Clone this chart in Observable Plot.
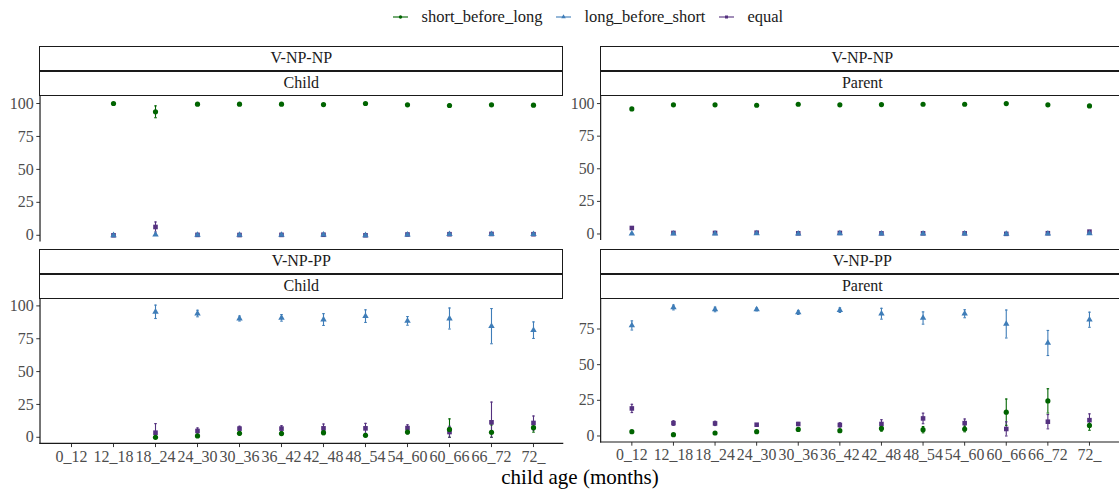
<!DOCTYPE html>
<html><head><meta charset="utf-8">
<script src="https://cdn.jsdelivr.net/npm/d3@7"></script>
<script src="https://cdn.jsdelivr.net/npm/@observablehq/plot@0.6"></script>
<style>
body{margin:0;background:#fff;}
#root{position:relative;width:1119px;height:491px;overflow:hidden;font-family:"Liberation Serif","DejaVu Serif",serif;background:#fff;}
.strip{position:absolute;box-sizing:border-box;border:1.4px solid #1a1a1a;background:#fff;font-size:16px;color:#1a1a1a;display:flex;align-items:center;justify-content:center;}
.panel{position:absolute;}
.panel svg{overflow:visible;}
#legend{position:absolute;top:7px;left:393px;display:flex;align-items:center;font-size:16.5px;color:#1a1a1a;white-space:nowrap;}
#legend .key{display:block;margin-right:13.5px;}
#legend .item{display:flex;align-items:center;margin-right:13.5px;}
#xtitle{position:absolute;top:465px;left:380px;width:400px;text-align:center;font-size:21px;color:#000;}
</style></head>
<body><div id="root"><div id="legend"></div><div id="xtitle">child age (months)</div></div>
<script>
// ---------- categories ----------
const ages = ["0_12","12_18","18_24","24_30","30_36","36_42","42_48","48_54","54_60","60_66","66_72","72_"];
const seriesNames = ["short_before_long","long_before_short","equal"];
const seriesColors = ["#006400","#3F7DB8","#54317F"];
const seriesSymbols = ["circle","triangle","square"];
const rowLabels = ["V-NP-NP","V-NP-PP"];
const colLabels = ["Child","Parent"];
const yTicksFull = [0,25,50,75,100];
const yTicksPP = [0,25,50,75];

// ---------- V-NP-NP / Child ----------
const npnpChildShort    = [null,100,93.7,99.5,99.5,99.5,99.2,100,99.0,98.5,99.0,98.7];
const npnpChildShortErr = [null,0.3,4.5,0.3,0.3,0.3,0.4,0.2,0.5,1.0,0.8,0.6];
const npnpChildLong     = [null,0.0,0.5,0.3,0.3,0.3,0.5,0.0,0.5,0.8,0.8,0.8];
const npnpChildLongErr  = [null,0.0,0.5,0.3,0.3,0.3,0.4,0.0,0.4,0.6,0.6,0.5];
const npnpChildEqual    = [null,0.0,6.3,0.3,0.2,0.3,0.4,0.0,0.6,0.8,1.0,0.8];
const npnpChildEqualErr = [null,0.0,3.8,0.2,0.2,0.2,0.3,0.0,0.4,0.5,0.6,0.5];

// ---------- V-NP-NP / Parent ----------
const npnpParentShort    = [95.9,99.0,99.0,98.7,99.5,99.0,99.2,99.5,99.5,100,99.0,98.2];
const npnpParentShortErr = [0.8,0.4,0.4,0.5,0.3,0.4,0.4,0.3,0.3,0.4,0.5,0.8];
const npnpParentLong     = [0.3,0.3,0.3,0.4,0.2,0.4,0.3,0.2,0.2,0.0,0.3,0.4];
const npnpParentLongErr  = [0.3,0.2,0.2,0.3,0.2,0.3,0.2,0.2,0.2,0.0,0.3,0.3];
const npnpParentEqual    = [4.6,0.8,0.8,1.0,0.5,0.8,0.5,0.5,0.5,0.1,0.6,1.8];
const npnpParentEqualErr = [0.8,0.4,0.4,0.5,0.3,0.4,0.3,0.3,0.3,0.1,0.4,0.8];

// ---------- V-NP-PP / Child ----------
const nppChildShort    = [null,null,0.0,1.0,3.0,2.8,3.5,1.5,4.0,6.0,3.8,7.3];
const nppChildShortErr = [null,null,0.3,0.8,1.2,1.2,1.5,1.0,1.4,8.0,5.6,3.4];
const nppChildLong     = [null,null,95.5,94.2,90.4,90.9,89.6,92.2,88.6,90.4,84.6,81.5];
const nppChildLongErr  = [null,null,5.1,2.5,1.9,2.5,4.5,4.8,3.3,8.0,13.4,6.3];
const nppChildEqual    = [null,null,3.5,4.8,6.6,6.6,6.8,6.8,7.0,4.0,11.4,10.9];
const nppChildEqualErr = [null,null,6.9,2.3,1.8,2.2,3.3,3.8,2.5,4.4,15.4,5.3];

// ---------- V-NP-PP / Parent ----------
const nppParentShort    = [3.0,0.9,2.1,3.0,4.6,3.7,5.3,4.4,4.9,16.7,24.6,7.4];
const nppParentShortErr = [0.6,0.4,0.5,0.6,0.9,0.8,2.0,2.2,2.0,9.2,8.5,3.4];
const nppParentLong     = [77.5,90.1,88.7,88.7,86.6,88.2,85.7,82.7,85.7,78.5,65.2,81.5];
const nppParentLongErr  = [3.2,1.7,1.6,1.0,1.4,1.6,3.8,4.3,2.8,9.8,8.8,5.3];
const nppParentEqual    = [19.3,9.0,8.8,7.9,8.4,7.7,8.4,12.3,9.0,4.9,10.0,11.1];
const nppParentEqualErr = [2.9,1.6,1.5,0.8,1.1,1.5,3.0,3.7,2.9,5.0,5.0,4.4];

// ---------- build tables ----------
function rows(means, errs) {
  const out = [];
  seriesNames.forEach((s, k) => {
    means[k].forEach((m, i) => {
      if (m == null) return;
      const e = errs[k][i];
      out.push({age: ages[i], series: s, mean: m, lo: Math.max(0, m - e), hi: m + e});
    });
  });
  return out;
}
const panels = [
  {row: 0, col: 0, ticks: yTicksFull, data: rows([npnpChildShort, npnpChildLong, npnpChildEqual], [npnpChildShortErr, npnpChildLongErr, npnpChildEqualErr])},
  {row: 0, col: 1, ticks: yTicksFull, data: rows([npnpParentShort, npnpParentLong, npnpParentEqual], [npnpParentShortErr, npnpParentLongErr, npnpParentEqualErr])},
  {row: 1, col: 0, ticks: yTicksFull, data: rows([nppChildShort, nppChildLong, nppChildEqual], [nppChildShortErr, nppChildLongErr, nppChildEqualErr])},
  {row: 1, col: 1, ticks: yTicksPP, data: rows([nppParentShort, nppParentLong, nppParentEqual], [nppParentShortErr, nppParentLongErr, nppParentEqualErr])}
];

// ---------- layout ----------
const colX = [0, 561];
const mLeft = 40, plotW = 523.3;
const stripTop = [46, 248.8], stripH = 24.8;
const panelTop = [95.6, 298.4], panelH = 145.4;

const capSymbol = {draw(ctx, size) { const r = Math.sqrt(size / Math.PI); ctx.moveTo(-r, 0); ctx.lineTo(r, 0); }};
const colorOf = s => seriesColors[seriesNames.indexOf(s)];

function axisLines(withX) {
  return (index, scales, values, dims) => {
    const {width, height, marginLeft, marginRight, marginTop, marginBottom} = dims;
    const g = d3.create("svg:g").attr("stroke", "#1a1a1a").attr("stroke-width", 1.2);
    g.append("line").attr("x1", marginLeft).attr("x2", marginLeft).attr("y1", marginTop).attr("y2", height - marginBottom + (withX ? 0.6 : 0));
    if (withX) g.append("line").attr("x1", marginLeft - 0.6).attr("x2", width - marginRight).attr("y1", height - marginBottom).attr("y2", height - marginBottom);
    return g.node();
  };
}

const root = document.getElementById("root");

panels.forEach(p => {
  const bottom = p.row === 1;
  const lo = d3.min(p.data, d => d.lo), hi = d3.max(p.data, d => d.hi);
  const pad = (hi - lo) * 0.05;
  const marks = [
    Plot.axisY({ticks: p.ticks, tickSize: 3.7, tickPadding: 3, label: null, fill: "#4d4d4d", stroke: "#333", fontSize: 16}),
    bottom ? Plot.axisX({tickSize: 3.7, tickPadding: 3, label: null, fill: "#4d4d4d", stroke: "#333", fontSize: 16}) : null,
    axisLines(bottom),
    Plot.ruleX(p.data, {x: "age", y1: "lo", y2: "hi", stroke: d => colorOf(d.series), strokeWidth: 1.1}),
    Plot.dot(p.data, {x: "age", y: "lo", symbol: capSymbol, r: 1.3, fill: "none", stroke: d => colorOf(d.series), strokeWidth: 1.1}),
    Plot.dot(p.data, {x: "age", y: "hi", symbol: capSymbol, r: 1.3, fill: "none", stroke: d => colorOf(d.series), strokeWidth: 1.1})
  ];
  // points: equal first, then long, then short
  [2, 1, 0].forEach(k => {
    marks.push(Plot.dot(p.data.filter(d => d.series === seriesNames[k]), {
      x: "age", y: "mean", symbol: seriesSymbols[k], r: k === 1 ? 2.4 : 2.6, fill: seriesColors[k], stroke: "none"
    }));
  });
  const chart = Plot.plot({
    width: mLeft + plotW,
    height: panelH + (bottom ? 40 : 0),
    marginLeft: mLeft, marginRight: 0, marginTop: 0, marginBottom: bottom ? 40 : 0,
    x: {type: "point", domain: ages, padding: 0.6, ...(bottom ? {} : {axis: null})},
    y: {domain: [lo - pad, hi + pad]},
    color: {type: "identity"},
    style: {fontFamily: '"Liberation Serif","DejaVu Serif",serif', fontSize: "16px", background: "transparent", overflow: "visible"},
    marks
  });
  const wrap = document.createElement("div");
  wrap.className = "panel";
  wrap.style.left = colX[p.col] + "px";
  wrap.style.top = panelTop[p.row] + "px";
  wrap.appendChild(chart);
  root.appendChild(wrap);

  // strips
  [rowLabels[p.row], colLabels[p.col]].forEach((txt, j) => {
    const s = document.createElement("div");
    s.className = "strip";
    s.style.left = (colX[p.col] + mLeft - 0.6) + "px";
    s.style.width = (plotW + 0.6) + "px";
    s.style.top = (stripTop[p.row] + j * stripH) + "px";
    s.style.height = (stripH + (j === 1 ? 0.3 : 0)) + "px";
    s.textContent = txt;
    root.appendChild(s);
  });
});

// ---------- legend ----------
const legend = document.getElementById("legend");
seriesNames.forEach((s, k) => {
  const item = document.createElement("div");
  item.className = "item";
  const svg = d3.create("svg").attr("class", "key").attr("width", 15).attr("height", 12);
  svg.append("line").attr("x1", 0).attr("x2", 15).attr("y1", 6).attr("y2", 6).attr("stroke", seriesColors[k]).attr("stroke-width", 1.1);
  const sym = {circle: d3.symbolCircle, triangle: d3.symbolTriangle, square: d3.symbolSquare}[seriesSymbols[k]];
  svg.append("path").attr("transform", "translate(7.5,6)").attr("d", d3.symbol(sym, 9)()).attr("fill", seriesColors[k]);
  item.appendChild(svg.node());
  const t = document.createElement("span");
  t.textContent = s;
  item.appendChild(t);
  legend.appendChild(item);
});
</script>
</body></html>
